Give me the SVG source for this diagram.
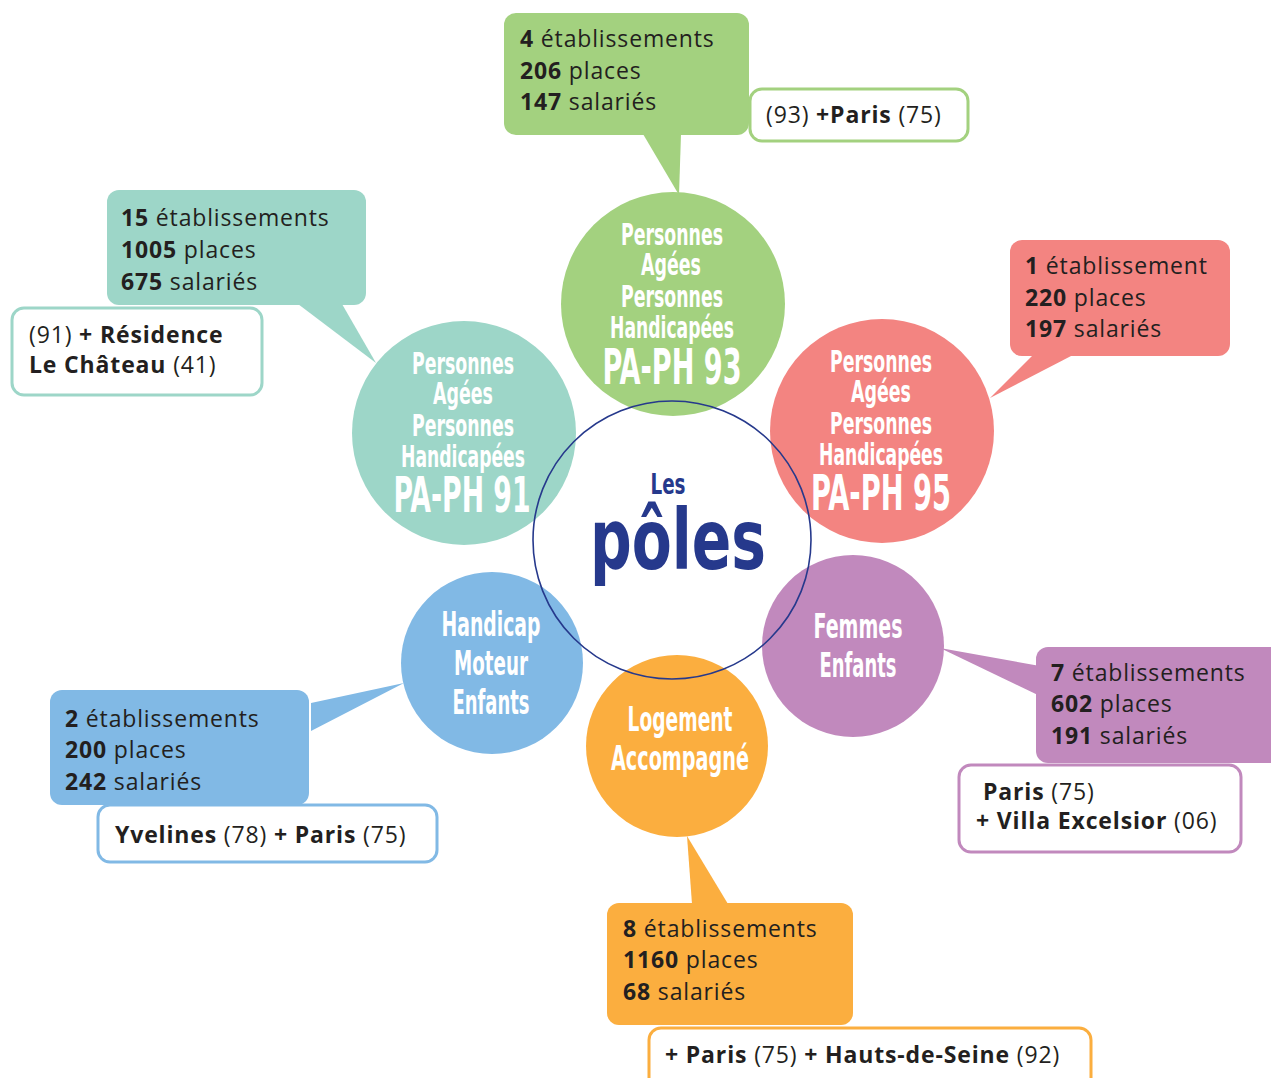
<svg xmlns="http://www.w3.org/2000/svg" width="1271" height="1078" viewBox="0 0 1271 1078">
<style>
.ct{font-family:"Open Sans","Liberation Sans",sans-serif;font-size:23px;fill:#231f20;letter-spacing:0.85px}
.b{font-weight:700}
.cond{font-family:"Liberation Sans Narrow","DejaVu Sans Condensed","DejaVu Sans",sans-serif;font-weight:700;font-stretch:condensed;fill:#ffffff;text-anchor:middle}
.wb{fill:#ffffff;stroke-width:3}
</style>
<rect width="1271" height="1078" fill="#ffffff"/>
<g id="connectors">
<polygon points="643,134 681,134 679,195" fill="#a3d17f"/>
<polygon points="298,304 342,304 376,363" fill="#9dd6c8"/>
<polygon points="1033,355 1073,355 990,398" fill="#f38481"/>
<polygon points="940,648 1040,666 1040,696" fill="#c189bd"/>
<polygon points="311,703 404,683 311,731" fill="#81b9e5"/>
<polygon points="687,836 692,904 728,904" fill="#fbae3f"/>
</g>
<g id="node-pa-ph-93">
<rect x="504" y="13" width="245" height="122" rx="12" fill="#a3d17f"/>
<text class="ct" x="520" y="47"><tspan class="b">4</tspan> établissements</text>
<text class="ct" x="520" y="79"><tspan class="b">206</tspan> places</text>
<text class="ct" x="520" y="110"><tspan class="b">147</tspan> salariés</text>
<rect class="wb" x="750" y="89" width="218" height="52" rx="12" stroke="#a3d17f"/>
<text class="ct" x="766" y="123">(93) <tspan class="b">+Paris</tspan> (75)</text>
<circle cx="673" cy="304" r="112" fill="#a3d17f"/>
</g>
<g id="node-pa-ph-91">
<rect x="107" y="190" width="259" height="115" rx="12" fill="#9dd6c8"/>
<text class="ct" x="121" y="226"><tspan class="b">15</tspan> établissements</text>
<text class="ct" x="121" y="258"><tspan class="b">1005</tspan> places</text>
<text class="ct" x="121" y="290"><tspan class="b">675</tspan> salariés</text>
<rect class="wb" x="12" y="308" width="250" height="87" rx="12" stroke="#9dd6c8"/>
<text class="ct" x="29" y="343">(91) <tspan class="b">+ Résidence</tspan></text>
<text class="ct" x="29" y="373"><tspan class="b">Le Château</tspan> (41)</text>
<circle cx="464" cy="433" r="112" fill="#9dd6c8"/>
</g>
<g id="node-pa-ph-95">
<rect x="1010" y="240" width="220" height="116" rx="12" fill="#f38481"/>
<text class="ct" x="1025" y="274"><tspan class="b">1</tspan> établissement</text>
<text class="ct" x="1025" y="306"><tspan class="b">220</tspan> places</text>
<text class="ct" x="1025" y="337"><tspan class="b">197</tspan> salariés</text>
<circle cx="882" cy="431" r="112" fill="#f38481"/>
</g>
<g id="node-femmes-enfants">
<rect x="1036" y="647" width="250" height="116" rx="12" fill="#c189bd"/>
<text class="ct" x="1051" y="681"><tspan class="b">7</tspan> établissements</text>
<text class="ct" x="1051" y="712"><tspan class="b">602</tspan> places</text>
<text class="ct" x="1051" y="744"><tspan class="b">191</tspan> salariés</text>
<rect class="wb" x="959" y="765" width="282" height="87" rx="12" stroke="#c189bd"/>
<text class="ct" x="983" y="800"><tspan class="b">Paris</tspan> (75)</text>
<text class="ct" x="976" y="829"><tspan class="b">+ Villa Excelsior</tspan> (06)</text>
<circle cx="853" cy="646" r="91" fill="#c189bd"/>
</g>
<g id="node-handicap">
<rect x="50" y="690" width="259" height="115" rx="12" fill="#81b9e5"/>
<text class="ct" x="65" y="727"><tspan class="b">2</tspan> établissements</text>
<text class="ct" x="65" y="758"><tspan class="b">200</tspan> places</text>
<text class="ct" x="65" y="790"><tspan class="b">242</tspan> salariés</text>
<rect class="wb" x="98" y="805" width="339" height="57" rx="12" stroke="#81b9e5"/>
<text class="ct" x="115" y="843"><tspan class="b">Yvelines</tspan> (78) <tspan class="b">+ Paris</tspan> (75)</text>
<circle cx="492" cy="663" r="91" fill="#81b9e5"/>
</g>
<g id="node-logement">
<rect x="607" y="903" width="246" height="122" rx="12" fill="#fbae3f"/>
<text class="ct" x="623" y="937"><tspan class="b">8</tspan> établissements</text>
<text class="ct" x="623" y="968"><tspan class="b">1160</tspan> places</text>
<text class="ct" x="623" y="1000"><tspan class="b">68</tspan> salariés</text>
<rect class="wb" x="649" y="1028" width="442" height="70" rx="12" stroke="#fbae3f"/>
<text class="ct" x="665" y="1063"><tspan class="b">+ Paris</tspan> (75) <tspan class="b">+ Hauts-de-Seine</tspan> (92)</text>
<circle cx="677" cy="746" r="91" fill="#fbae3f"/>
</g>
<g id="node-center">
<circle cx="672" cy="540" r="139" fill="none" stroke="#26398c" stroke-width="1.6"/>
<text class="cond" x="668" y="494" font-size="29" style="fill:#26398c" textLength="35" lengthAdjust="spacingAndGlyphs">Les</text>
<text class="cond" x="678" y="569" font-size="84" style="fill:#26398c;font-weight:600" textLength="176" lengthAdjust="spacingAndGlyphs">pôles</text>
</g>
<g id="labels">
<text class="cond" x="672" y="245" font-size="30" textLength="102" lengthAdjust="spacingAndGlyphs">Personnes</text>
<text class="cond" x="671" y="275" font-size="30" textLength="60" lengthAdjust="spacingAndGlyphs">Agées</text>
<text class="cond" x="672" y="307" font-size="30" textLength="102" lengthAdjust="spacingAndGlyphs">Personnes</text>
<text class="cond" x="672" y="338" font-size="30" textLength="124" lengthAdjust="spacingAndGlyphs">Handicapées</text>
<text class="cond" x="672" y="384" font-size="49" textLength="139" lengthAdjust="spacingAndGlyphs">PA-PH 93</text>
<text class="cond" x="463" y="374" font-size="30" textLength="102" lengthAdjust="spacingAndGlyphs">Personnes</text>
<text class="cond" x="463" y="404" font-size="30" textLength="60" lengthAdjust="spacingAndGlyphs">Agées</text>
<text class="cond" x="463" y="436" font-size="30" textLength="102" lengthAdjust="spacingAndGlyphs">Personnes</text>
<text class="cond" x="463" y="467" font-size="30" textLength="124" lengthAdjust="spacingAndGlyphs">Handicapées</text>
<text class="cond" x="462" y="512" font-size="49" textLength="137" lengthAdjust="spacingAndGlyphs">PA-PH 91</text>
<text class="cond" x="881" y="372" font-size="30" textLength="102" lengthAdjust="spacingAndGlyphs">Personnes</text>
<text class="cond" x="881" y="402" font-size="30" textLength="60" lengthAdjust="spacingAndGlyphs">Agées</text>
<text class="cond" x="881" y="434" font-size="30" textLength="102" lengthAdjust="spacingAndGlyphs">Personnes</text>
<text class="cond" x="881" y="465" font-size="30" textLength="124" lengthAdjust="spacingAndGlyphs">Handicapées</text>
<text class="cond" x="881" y="510" font-size="49" textLength="140" lengthAdjust="spacingAndGlyphs">PA-PH 95</text>
<text class="cond" x="858" y="638" font-size="34" textLength="89" lengthAdjust="spacingAndGlyphs">Femmes</text>
<text class="cond" x="858" y="677" font-size="34" textLength="77" lengthAdjust="spacingAndGlyphs">Enfants</text>
<text class="cond" x="491" y="636" font-size="34" textLength="99" lengthAdjust="spacingAndGlyphs">Handicap</text>
<text class="cond" x="491" y="675" font-size="34" textLength="74" lengthAdjust="spacingAndGlyphs">Moteur</text>
<text class="cond" x="491" y="714" font-size="34" textLength="77" lengthAdjust="spacingAndGlyphs">Enfants</text>
<text class="cond" x="680" y="731" font-size="34" textLength="105" lengthAdjust="spacingAndGlyphs">Logement</text>
<text class="cond" x="680" y="770" font-size="34" textLength="138" lengthAdjust="spacingAndGlyphs">Accompagné</text>
</g>
</svg>
